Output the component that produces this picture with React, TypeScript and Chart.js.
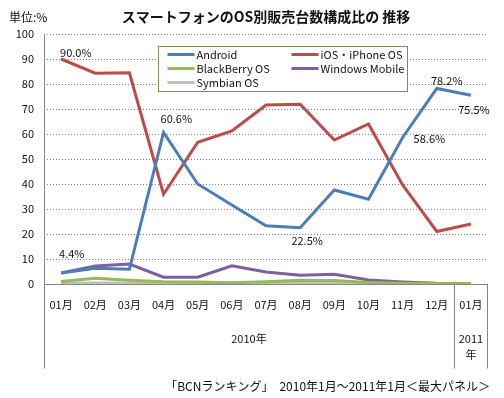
import React, { useEffect, useRef } from "react";
import { Chart, registerables } from "chart.js";

Chart.register(...registerables);

const months = ["01月", "02月", "03月", "04月", "05月", "06月", "07月", "08月", "09月", "10月", "11月", "12月", "01月"];
const android = [4.4, 6.3, 5.9, 60.6, 40.0, 31.6, 23.3, 22.5, 37.6, 33.9, 58.6, 78.2, 75.5];
const ios = [90.0, 84.3, 84.5, 35.9, 56.7, 61.2, 71.6, 71.9, 57.6, 64.0, 39.6, 21.0, 24.0];
const blackberry = [1.0, 2.3, 1.5, 0.9, 0.8, 0.5, 0.9, 1.5, 1.4, 0.6, 0.3, 0.2, 0.2];
const windowsMobile = [4.4, 7.2, 8.0, 2.7, 2.7, 7.3, 4.8, 3.5, 3.9, 1.6, 0.8, 0.3, 0.2];
const symbian = [0.3, 0.4, 0.4, 0.3, 0.3, 0.3, 0.3, 0.3, 0.3, 0.2, 0.2, 0.2, 0.2];
const yTicks = [0, 10, 20, 30, 40, 50, 60, 70, 80, 90, 100];
const yearGroups = [
  { label: ["2010年"], from: 0, to: 11 },
  { label: ["2011", "年"], from: 12, to: 12 },
];
// annotated points: dataset index, category index
const annotations = [
  { ds: 1, idx: 0, dx: -1, dy: -6, align: "left" },
  { ds: 0, idx: 0, dx: -2, dy: -19, align: "left" },
  { ds: 0, idx: 3, dx: -3, dy: -14, align: "left" },
  { ds: 0, idx: 7, dx: 7, dy: 13, align: "center" },
  { ds: 0, idx: 10, dx: 11, dy: 1, align: "left" },
  { ds: 0, idx: 11, dx: 10, dy: -8, align: "center" },
  { ds: 0, idx: 12, dx: 3, dy: 15, align: "center" },
];

const FONT = '"Noto Sans CJK JP", "Noto Sans", sans-serif';

const series = [
  { label: "Android", data: android, color: "#4A7EBB" },
  { label: "iOS・iPhone OS", data: ios, color: "#BE4B48" },
  { label: "BlackBerry OS", data: blackberry, color: "#98B954" },
  { label: "Windows Mobile", data: windowsMobile, color: "#7D60A0" },
  { label: "Symbian OS", data: symbian, color: "#BFBFBF" },
];

const overlay = {
  id: "overlay",
  beforeDatasetsDraw(chart: any) {
    const { ctx, chartArea } = chart;
    const y = chart.scales.y;
    ctx.save();
    ctx.strokeStyle = "#7f7f7f";
    ctx.lineWidth = 1;
    ctx.setLineDash([1, 2]);
    for (const t of yTicks) {
      if (t === 0) continue;
      const py = Math.round(y.getPixelForValue(t)) + 0.5;
      ctx.beginPath();
      ctx.moveTo(chartArea.left, py);
      ctx.lineTo(chartArea.right, py);
      ctx.stroke();
    }
    ctx.setLineDash([]);
    ctx.strokeStyle = "#868686";
    const x = chart.scales.x;
    const zero = Math.round(y.getPixelForValue(0)) + 0.5;
    const bottom = zero + 84;
    const left = Math.round(chartArea.left) + 0.5;
    ctx.beginPath();
    ctx.moveTo(left, Math.round(chartArea.top));
    ctx.lineTo(left, bottom);
    ctx.stroke();
    ctx.beginPath();
    ctx.moveTo(chartArea.left, zero);
    ctx.lineTo(chartArea.right, zero);
    ctx.stroke();
    const sep = Math.round((x.getPixelForValue(11) + x.getPixelForValue(12)) / 2) + 0.5;
    const right = Math.round(chartArea.right) - 0.5;
    for (const sx of [sep, right]) {
      ctx.beginPath();
      ctx.moveTo(sx, zero);
      ctx.lineTo(sx, bottom);
      ctx.stroke();
    }
    ctx.restore();
  },
  afterDraw(chart: any) {
    const { ctx } = chart;
    const x = chart.scales.x;
    const y = chart.scales.y;
    ctx.save();
    ctx.fillStyle = "#111";
    ctx.textBaseline = "middle";
    ctx.font = `bold 14px ${FONT}`;
    ctx.textAlign = "center";
    ctx.fillText("スマートフォンのOS別販売台数構成比の 推移", 266, 17);
    ctx.font = `12px ${FONT}`;
    ctx.textAlign = "left";
    ctx.fillText("単位:%", 9, 17);
    ctx.font = `11px ${FONT}`;
    ctx.textAlign = "center";
    months.forEach((m, i) => {
      ctx.fillText(m, x.getPixelForValue(i), 305);
    });
    for (const g of yearGroups) {
      const cx = (x.getPixelForValue(g.from) + x.getPixelForValue(g.to)) / 2;
      g.label.forEach((l, k) => ctx.fillText(l, cx, 339 + k * 16));
    }
    ctx.font = `12px ${FONT}`;
    ctx.textAlign = "right";
    ctx.fillText("「BCNランキング」　2010年1月～2011年1月＜最大パネル＞", 490, 386);
    ctx.font = `11px ${FONT}`;
    for (const a of annotations) {
      const v = series[a.ds].data[a.idx];
      const px = x.getPixelForValue(a.idx);
      const py = y.getPixelForValue(v);
      ctx.textAlign = a.align as CanvasTextAlign;
      ctx.fillText(v.toFixed(1) + "%", px + a.dx, py + a.dy);
    }
    const lx = 158.5, ly = 46.5, lw = 249, lh = 45;
    ctx.fillStyle = "#fff";
    ctx.fillRect(lx, ly, lw, lh);
    ctx.strokeStyle = "#8C8650";
    ctx.lineWidth = 1;
    ctx.strokeRect(lx, ly, lw, lh);
    ctx.font = `11px ${FONT}`;
    ctx.textAlign = "left";
    series.forEach((s, i) => {
      const col = i % 2;
      const row = Math.floor(i / 2);
      const sx = lx + 9 + col * 124;
      const sy = ly + 8 + row * 14;
      ctx.strokeStyle = s.color;
      ctx.lineWidth = 3;
      ctx.beginPath();
      ctx.moveTo(sx, sy);
      ctx.lineTo(sx + 27, sy);
      ctx.stroke();
      ctx.fillStyle = "#111";
      ctx.fillText(s.label, sx + 29, sy);
    });
    ctx.restore();
  },
};

export default function App() {
  const ref = useRef<HTMLCanvasElement>(null);
  useEffect(() => {
    const chart = new Chart(ref.current!, {
      type: "line",
      data: {
        labels: months,
        datasets: series.map((s) => ({
          label: s.label,
          data: s.data,
          borderColor: s.color,
          backgroundColor: s.color,
          borderWidth: 3,
          pointRadius: 0,
          tension: 0,
          fill: false,
        })),
      },
      options: {
        responsive: false,
        animation: false,
        layout: { padding: { left: 0, top: 34, right: 16, bottom: 0 } },
        plugins: { legend: { display: false }, tooltip: { enabled: false } },
        scales: {
          x: {
            offset: true,
            grid: { display: false, drawTicks: false },
            border: { display: false },
            ticks: { display: false },
            afterFit: (s: any) => { s.height = 114; },
          },
          y: {
            min: 0,
            max: 100,
            grid: { display: false, drawTicks: false },
            border: { display: false },
            ticks: {
              stepSize: 10,
              padding: 10,
              color: "#111",
              font: { family: FONT, size: 11 },
            },
            afterFit: (s: any) => { s.width = 44; },
          },
        },
      },
      plugins: [overlay],
    });
    return () => chart.destroy();
  }, []);
  return (
    <div style={{ position: "absolute", left: 0, top: 0, width: 504, height: 398, background: "#fff" }}>
      <canvas ref={ref} width={504} height={398} />
    </div>
  );
}
